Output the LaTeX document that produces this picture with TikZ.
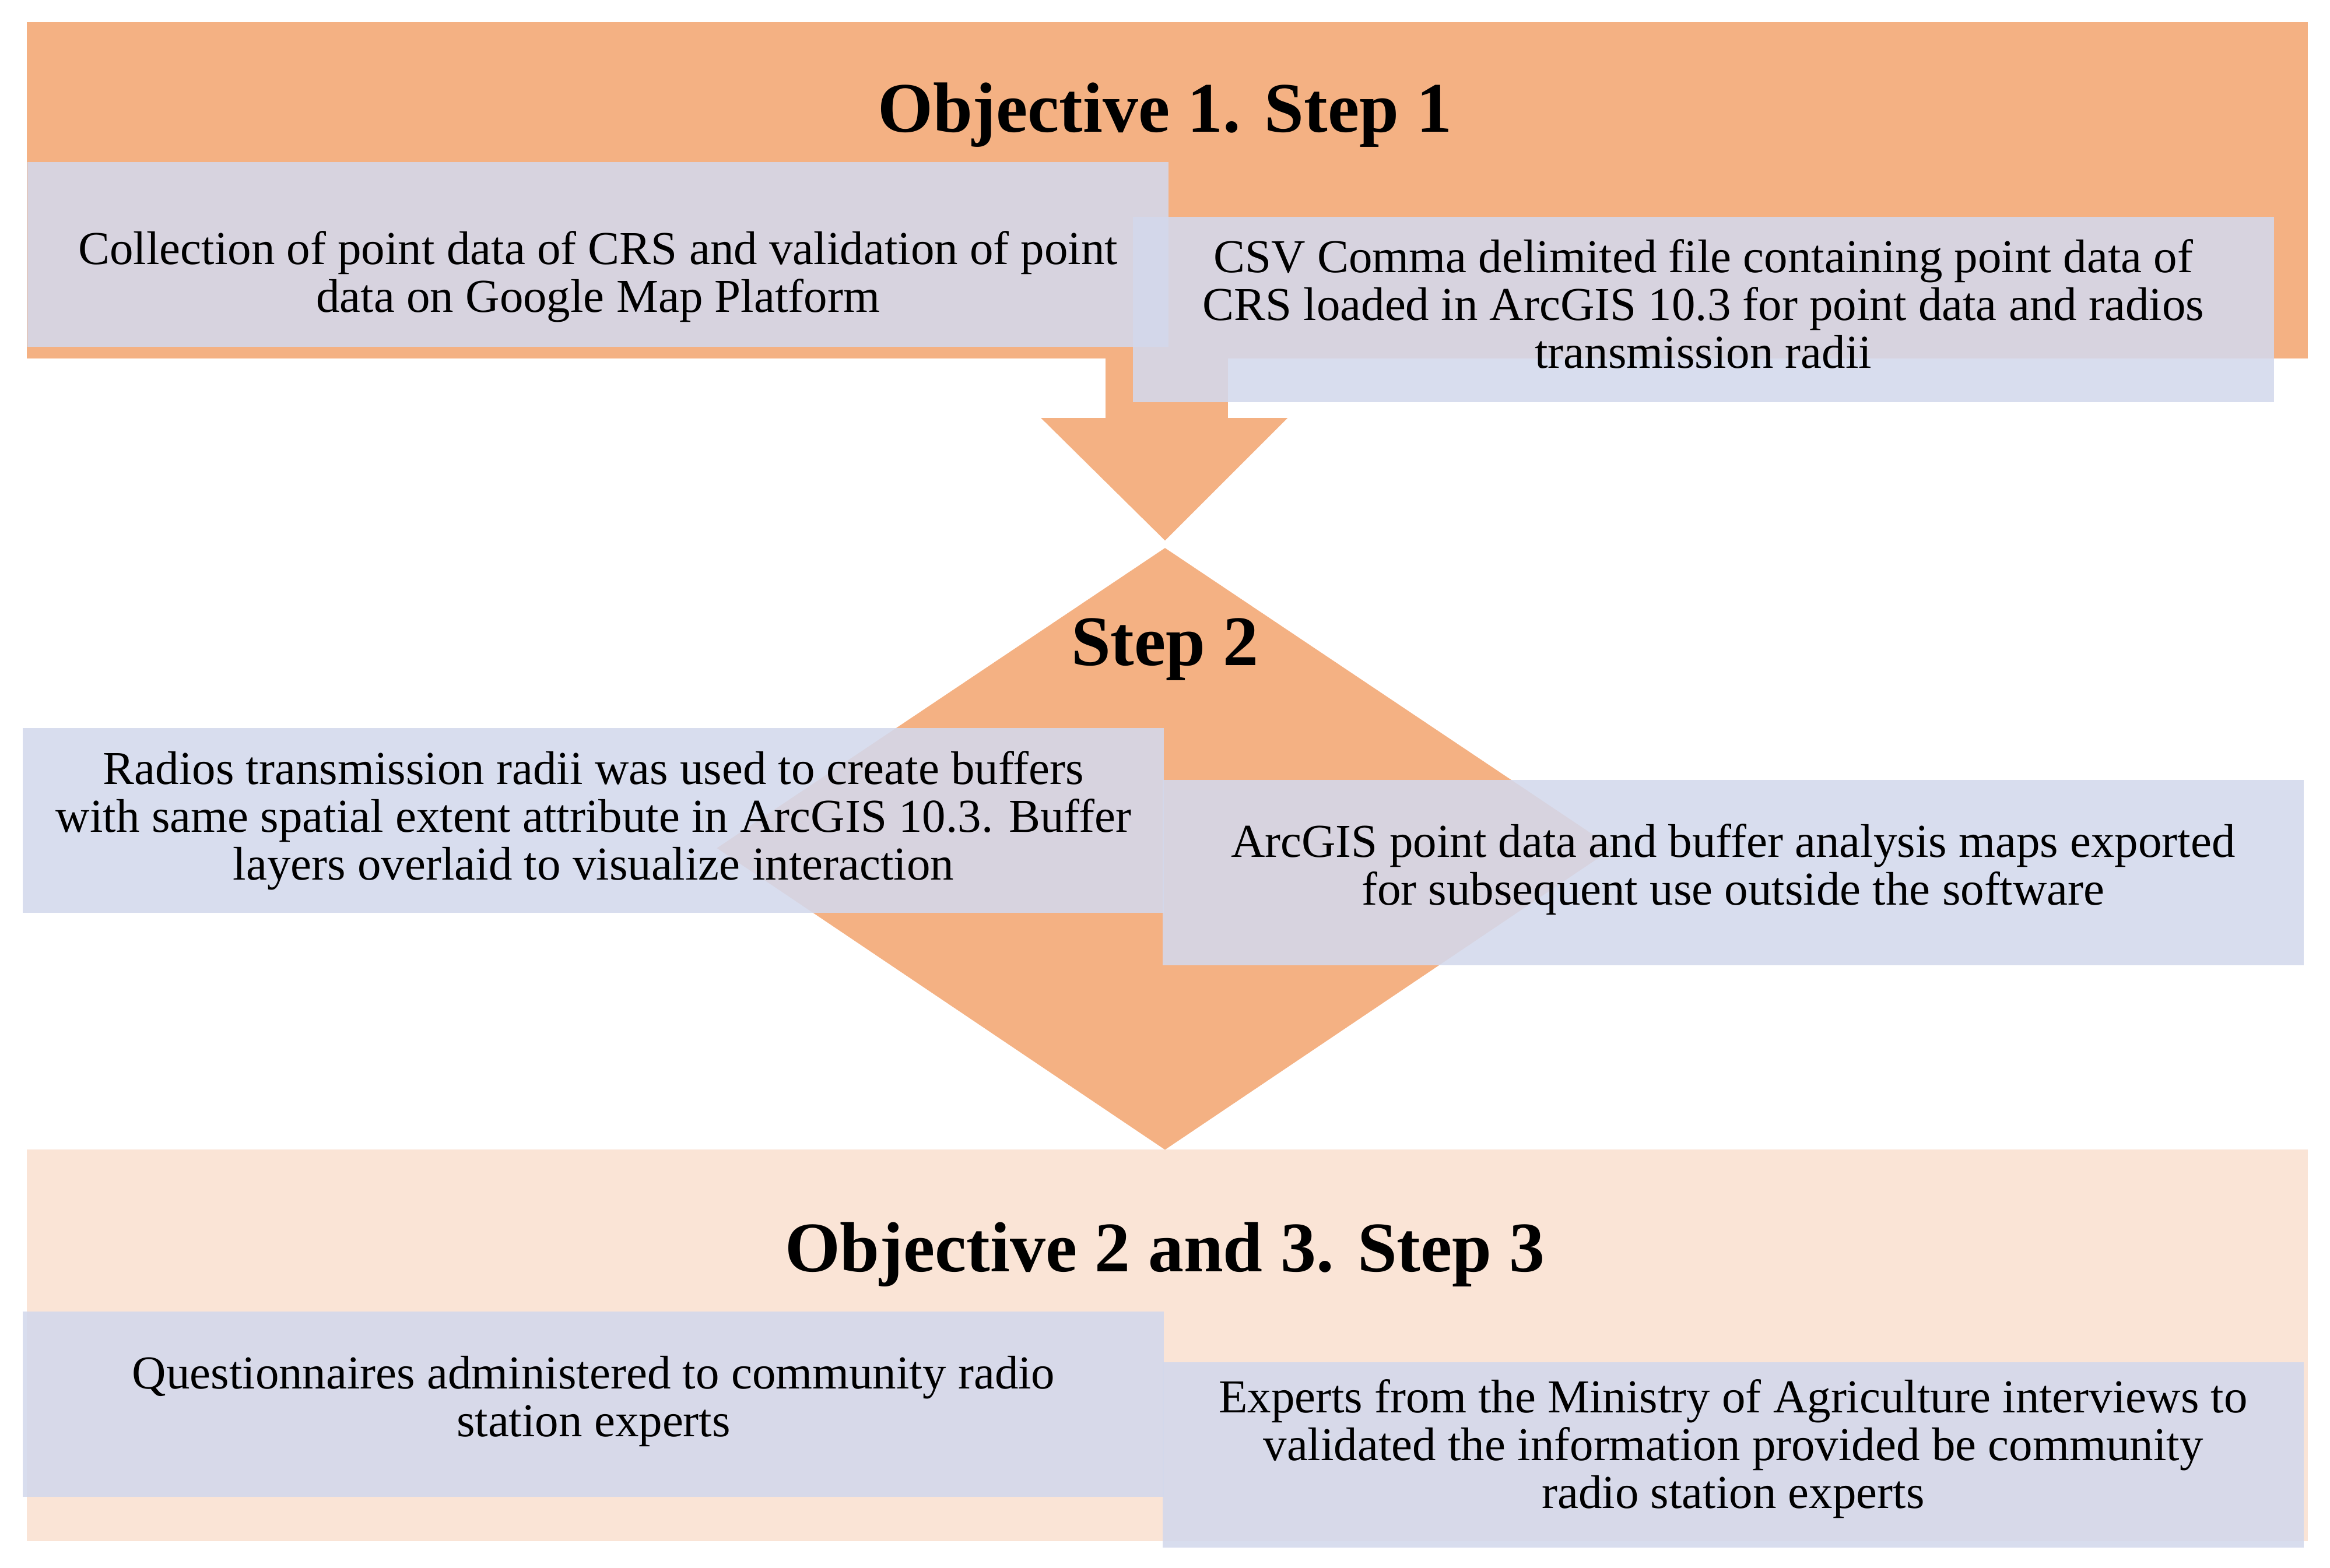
\documentclass[tikz,border=0pt]{standalone}
\usepackage{fontspec}
\setmainfont{Liberation Serif}
\begin{document}
\begin{tikzpicture}[x=0.5pt,y=-0.5pt,
  box/.style={fill=boxc,fill opacity=0.88,text opacity=1,draw=none,anchor=north west,inner sep=0pt,minimum width=764*0.5pt,minimum height=124*0.5pt},
  txt/.style={font=\fontsize{15.8}{16}\selectfont,align=center},
  ttl/.style={font=\fontsize{23.8}{26}\selectfont\bfseries}]
\definecolor{orng}{HTML}{F4B183}
\definecolor{lite}{HTML}{FAE4D6}
\definecolor{boxc}{HTML}{D3D8EC}
\useasboundingbox (0,0) rectangle (1560,1050);
\fill[orng] (18,15) rectangle (1545,240);
\fill[orng] (740,238) rectangle (822,281);
\fill[orng] (697,280) -- (862,280) -- (780,362) -- cycle;
\fill[orng] (780,367) -- (1080,568) -- (780,770) -- (480,568) -- cycle;
\fill[lite] (18,770) rectangle (1545,1032);
\node[ttl] (t1) at (780,77) {Objective 1. Step 1};
\node[ttl] (t2) at (780,435) {Step 2};
\node[ttl] (t3) at (780,840) {Objective 2 and 3. Step 3};
\node[box] (b1) at (18,108) {};
\node[txt] at ([yshift=-7.5pt]b1.center) {Collection of point data of CRS and validation of point\\data on Google Map Platform};
\node[box] (b2) at (758,145) {};
\node[txt] at ([yshift=2pt]b2.center) {CSV Comma delimited file containing point data of\\CRS loaded in ArcGIS 10.3 for point data and radios\\transmission radii};
\node[box] (b3) at (15,487) {};
\node[txt] at (b3.center) {Radios transmission radii was used to create buffers\\with same spatial extent attribute in ArcGIS 10.3. Buffer\\layers overlaid to visualize interaction};
\node[box] (b4) at (778,522) {};
\node[txt] at ([yshift=1pt]b4.center) {ArcGIS point data and buffer analysis maps exported\\for subsequent use outside the software};
\node[box] (b5) at (15,878) {};
\node[txt] at ([yshift=1pt]b5.center) {Questionnaires administered to community radio\\station experts};
\node[box] (b6) at (778,912) {};
\node[txt] at ([yshift=2pt]b6.center) {Experts from the Ministry of Agriculture interviews to\\validated the information provided be community\\radio station experts};
\end{tikzpicture}
\end{document}
